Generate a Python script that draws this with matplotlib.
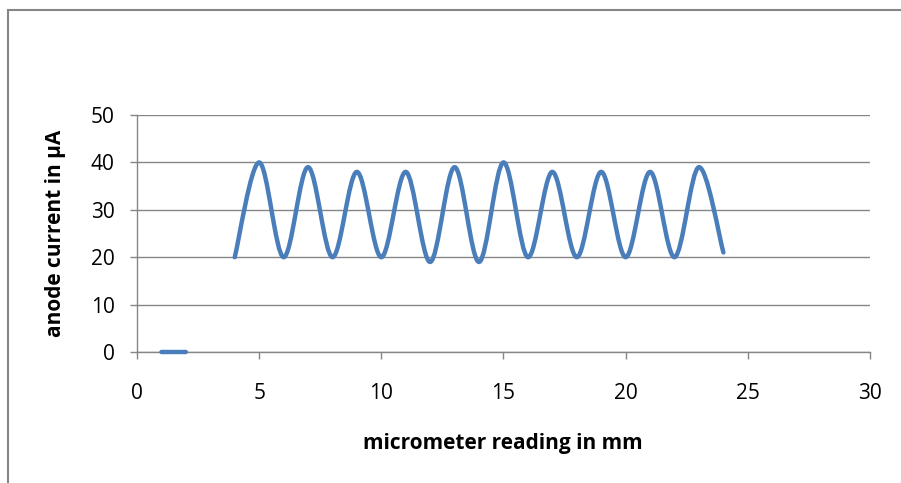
import numpy as np
import matplotlib
matplotlib.use('Agg')
import matplotlib.pyplot as plt
from matplotlib.path import Path
from matplotlib.patches import PathPatch, Rectangle

# readings (mm) and anode current (uA)
x_start = [1, 2]
y_start = [0, 0]
x_scan = [4, 5, 6, 7, 8, 9, 10, 11, 12, 13, 14, 15, 16, 17, 18, 19, 20, 21, 22, 23, 24]
y_scan = [20, 40, 20, 39, 20, 38, 20, 38, 19, 39, 19, 40, 20, 38, 20, 38, 20, 38, 20, 39, 21]

x_ticks = [0, 5, 10, 15, 20, 25, 30]
y_ticks = [0, 10, 20, 30, 40, 50]

LINE = '#4A7EBB'
GRAY = '#868686'

plt.rcParams['font.family'] = ['Open Sans', 'DejaVu Sans']


def smooth_path(xs, ys):
    # excel style smoothed line: bezier segments with catmull-rom tangents
    pts = np.column_stack([xs, ys]).astype(float)
    verts = [pts[0]]
    codes = [Path.MOVETO]
    n = len(pts)
    for i in range(n - 1):
        p0 = pts[i - 1] if i > 0 else pts[i]
        p1 = pts[i]
        p2 = pts[i + 1]
        p3 = pts[i + 2] if i + 2 < n else pts[i + 1]
        verts += [p1 + (p2 - p0) / 6, p2 - (p3 - p1) / 6, p2]
        codes += [Path.CURVE4] * 3
    return Path(verts, codes)


fig = plt.figure(figsize=(9.01, 4.83), dpi=100)
W, H = 901, 483

# chart frame
fig.patches.append(Rectangle((8 / W, -0.1), 1.2, 1 - 10 / H + 0.1, transform=fig.transFigure,
                             fill=False, edgecolor=GRAY, linewidth=1.5))

ax = fig.add_axes([137 / W, 131 / H, (870 - 137) / W, (352 - 115) / H])
ax.set_xlim(0, 30)
ax.set_ylim(0, 50)
ax.set_xticks(x_ticks)
ax.set_yticks(y_ticks)

for s in ['top', 'right']:
    ax.spines[s].set_visible(False)
for s in ['left', 'bottom']:
    ax.spines[s].set_color(GRAY)
    ax.spines[s].set_linewidth(1.0)

ax.yaxis.grid(True, color=GRAY, linewidth=1.0)
ax.set_axisbelow(True)
ax.tick_params(axis='both', colors=GRAY, length=5, width=1.0, labelcolor='black', labelsize=15)
ax.tick_params(axis='x', pad=17)
ax.tick_params(axis='y', pad=11)

for xs, ys in [(x_start, y_start), (x_scan, y_scan)]:
    ax.add_patch(PathPatch(smooth_path(xs, ys), transform=ax.transData, fill=False,
                           edgecolor=LINE, linewidth=3.2, capstyle='round',
                           joinstyle='round', clip_on=False, zorder=3))

fig.text(56 / W, 1 - 233 / H, 'anode current in μA', rotation=90, ha='center', va='center',
         fontsize=15, fontweight='bold')
fig.text(503 / W, 1 - 443 / H, 'micrometer reading in mm', ha='center', va='center',
         fontsize=15, fontweight='bold')

fig.savefig('out.png', dpi=100)
